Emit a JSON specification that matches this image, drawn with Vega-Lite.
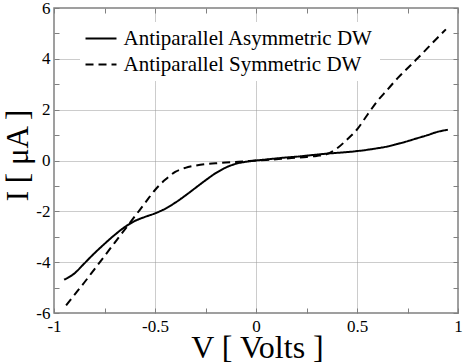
{
  "$schema": "https://vega.github.io/schema/vega-lite/v6.json",
  "width": 404,
  "height": 305,
  "autosize": {"type": "none"},
  "padding": {"left": 54, "top": 8, "right": 5, "bottom": 51},
  "background": "white",
  "config": {
    "view": {"stroke": "#808080", "strokeWidth": 1.5},
    "font": "Liberation Serif",
    "axis": {"labelFont": "Liberation Serif", "titleFont": "Liberation Serif"},
    "legend": {"labelFont": "Liberation Serif"}
  },
  "data": {
    "values": [
      {"series": "Antiparallel Asymmetric DW", "v": -0.95, "i": -4.69},
      {"series": "Antiparallel Asymmetric DW", "v": -0.90, "i": -4.45},
      {"series": "Antiparallel Asymmetric DW", "v": -0.85, "i": -4.05},
      {"series": "Antiparallel Asymmetric DW", "v": -0.80, "i": -3.65},
      {"series": "Antiparallel Asymmetric DW", "v": -0.75, "i": -3.28},
      {"series": "Antiparallel Asymmetric DW", "v": -0.70, "i": -2.93},
      {"series": "Antiparallel Asymmetric DW", "v": -0.65, "i": -2.62},
      {"series": "Antiparallel Asymmetric DW", "v": -0.60, "i": -2.38},
      {"series": "Antiparallel Asymmetric DW", "v": -0.55, "i": -2.22},
      {"series": "Antiparallel Asymmetric DW", "v": -0.50, "i": -2.08},
      {"series": "Antiparallel Asymmetric DW", "v": -0.45, "i": -1.90},
      {"series": "Antiparallel Asymmetric DW", "v": -0.40, "i": -1.66},
      {"series": "Antiparallel Asymmetric DW", "v": -0.35, "i": -1.38},
      {"series": "Antiparallel Asymmetric DW", "v": -0.30, "i": -1.08},
      {"series": "Antiparallel Asymmetric DW", "v": -0.25, "i": -0.78},
      {"series": "Antiparallel Asymmetric DW", "v": -0.20, "i": -0.50},
      {"series": "Antiparallel Asymmetric DW", "v": -0.15, "i": -0.28},
      {"series": "Antiparallel Asymmetric DW", "v": -0.10, "i": -0.13},
      {"series": "Antiparallel Asymmetric DW", "v": -0.05, "i": -0.05},
      {"series": "Antiparallel Asymmetric DW", "v": 0.00, "i": 0.00},
      {"series": "Antiparallel Asymmetric DW", "v": 0.05, "i": 0.04},
      {"series": "Antiparallel Asymmetric DW", "v": 0.10, "i": 0.08},
      {"series": "Antiparallel Asymmetric DW", "v": 0.15, "i": 0.12},
      {"series": "Antiparallel Asymmetric DW", "v": 0.20, "i": 0.15},
      {"series": "Antiparallel Asymmetric DW", "v": 0.25, "i": 0.19},
      {"series": "Antiparallel Asymmetric DW", "v": 0.30, "i": 0.23},
      {"series": "Antiparallel Asymmetric DW", "v": 0.35, "i": 0.27},
      {"series": "Antiparallel Asymmetric DW", "v": 0.40, "i": 0.30},
      {"series": "Antiparallel Asymmetric DW", "v": 0.45, "i": 0.33},
      {"series": "Antiparallel Asymmetric DW", "v": 0.50, "i": 0.37},
      {"series": "Antiparallel Asymmetric DW", "v": 0.55, "i": 0.42},
      {"series": "Antiparallel Asymmetric DW", "v": 0.60, "i": 0.48},
      {"series": "Antiparallel Asymmetric DW", "v": 0.65, "i": 0.55},
      {"series": "Antiparallel Asymmetric DW", "v": 0.70, "i": 0.65},
      {"series": "Antiparallel Asymmetric DW", "v": 0.75, "i": 0.76},
      {"series": "Antiparallel Asymmetric DW", "v": 0.80, "i": 0.88},
      {"series": "Antiparallel Asymmetric DW", "v": 0.85, "i": 1.00},
      {"series": "Antiparallel Asymmetric DW", "v": 0.90, "i": 1.13},
      {"series": "Antiparallel Asymmetric DW", "v": 0.95, "i": 1.21},
      {"series": "Antiparallel Symmetric DW", "v": -0.94, "i": -5.70},
      {"series": "Antiparallel Symmetric DW", "v": -0.90, "i": -5.30},
      {"series": "Antiparallel Symmetric DW", "v": -0.85, "i": -4.80},
      {"series": "Antiparallel Symmetric DW", "v": -0.80, "i": -4.28},
      {"series": "Antiparallel Symmetric DW", "v": -0.75, "i": -3.76},
      {"series": "Antiparallel Symmetric DW", "v": -0.70, "i": -3.24},
      {"series": "Antiparallel Symmetric DW", "v": -0.65, "i": -2.72},
      {"series": "Antiparallel Symmetric DW", "v": -0.60, "i": -2.20},
      {"series": "Antiparallel Symmetric DW", "v": -0.55, "i": -1.68},
      {"series": "Antiparallel Symmetric DW", "v": -0.50, "i": -1.16},
      {"series": "Antiparallel Symmetric DW", "v": -0.45, "i": -0.76},
      {"series": "Antiparallel Symmetric DW", "v": -0.40, "i": -0.45},
      {"series": "Antiparallel Symmetric DW", "v": -0.35, "i": -0.29},
      {"series": "Antiparallel Symmetric DW", "v": -0.30, "i": -0.20},
      {"series": "Antiparallel Symmetric DW", "v": -0.25, "i": -0.14},
      {"series": "Antiparallel Symmetric DW", "v": -0.20, "i": -0.11},
      {"series": "Antiparallel Symmetric DW", "v": -0.15, "i": -0.08},
      {"series": "Antiparallel Symmetric DW", "v": -0.10, "i": -0.06},
      {"series": "Antiparallel Symmetric DW", "v": -0.05, "i": -0.03},
      {"series": "Antiparallel Symmetric DW", "v": 0.00, "i": 0.00},
      {"series": "Antiparallel Symmetric DW", "v": 0.05, "i": 0.02},
      {"series": "Antiparallel Symmetric DW", "v": 0.10, "i": 0.05},
      {"series": "Antiparallel Symmetric DW", "v": 0.15, "i": 0.08},
      {"series": "Antiparallel Symmetric DW", "v": 0.20, "i": 0.11},
      {"series": "Antiparallel Symmetric DW", "v": 0.25, "i": 0.14},
      {"series": "Antiparallel Symmetric DW", "v": 0.30, "i": 0.18},
      {"series": "Antiparallel Symmetric DW", "v": 0.35, "i": 0.25},
      {"series": "Antiparallel Symmetric DW", "v": 0.40, "i": 0.47},
      {"series": "Antiparallel Symmetric DW", "v": 0.45, "i": 0.82},
      {"series": "Antiparallel Symmetric DW", "v": 0.50, "i": 1.22},
      {"series": "Antiparallel Symmetric DW", "v": 0.55, "i": 1.78},
      {"series": "Antiparallel Symmetric DW", "v": 0.60, "i": 2.33},
      {"series": "Antiparallel Symmetric DW", "v": 0.65, "i": 2.78},
      {"series": "Antiparallel Symmetric DW", "v": 0.70, "i": 3.23},
      {"series": "Antiparallel Symmetric DW", "v": 0.75, "i": 3.63},
      {"series": "Antiparallel Symmetric DW", "v": 0.80, "i": 4.02},
      {"series": "Antiparallel Symmetric DW", "v": 0.85, "i": 4.43},
      {"series": "Antiparallel Symmetric DW", "v": 0.90, "i": 4.84},
      {"series": "Antiparallel Symmetric DW", "v": 0.94, "i": 5.16}
    ]
  },
  "layer": [
    {
      "mark": {"type": "line", "color": "black", "strokeWidth": 2, "interpolate": "monotone"},
      "encoding": {
        "x": {
          "field": "v", "type": "quantitative",
          "scale": {"domain": [-1, 1], "nice": false, "zero": false},
          "axis": {
            "orient": "bottom",
            "title": "V [ Volts ]",
            "values": [-1, -0.75, -0.5, -0.25, 0, 0.25, 0.5, 0.75, 1],
            "labelExpr": "datum.value % 0.5 === 0 ? '' + datum.value : ''",
            "labelFont": "Liberation Serif", "labelFontSize": 17, "labelColor": "black",
            "labelFlush": false, "labelOverlap": false, "labelPadding": 10, "labelBaseline": "top",
            "tickSize": -5, "tickColor": "#808080", "tickWidth": 1,
            "domain": false,
            "grid": true, "gridColor": "#999999", "gridDash": [1, 1], "gridWidth": 1,
            "gridOpacity": {"condition": {"test": "datum.value % 0.5 === 0 && abs(datum.value) < 1", "value": 1}, "value": 0},
            "titleFont": "Liberation Serif", "titleFontSize": 32, "titleFontWeight": "normal", "titleColor": "black",
            "titleX": 203, "titleY": 44, "titleBaseline": "alphabetic", "titleAlign": "center"
          }
        },
        "y": {
          "field": "i", "type": "quantitative",
          "scale": {"domain": [-6, 6], "nice": false, "zero": false},
          "axis": {
            "orient": "left",
            "title": "I [ μA ]",
            "values": [-6, -5, -4, -3, -2, -1, 0, 1, 2, 3, 4, 5, 6],
            "labelExpr": "datum.value % 2 === 0 ? '' + datum.value : ''",
            "labelFont": "Liberation Serif", "labelFontSize": 17, "labelColor": "black",
            "labelFlush": false, "labelOverlap": false, "labelPadding": 9,
            "tickSize": -5, "tickColor": "#808080", "tickWidth": 1,
            "domain": false,
            "grid": true, "gridColor": "#999999", "gridDash": [1, 1], "gridWidth": 1,
            "gridOpacity": {"condition": {"test": "datum.value % 2 === 0 && abs(datum.value) < 6", "value": 1}, "value": 0},
            "titleFont": "Liberation Serif", "titleFontSize": 31, "titleFontWeight": "normal", "titleColor": "black",
            "titleAngle": -90, "titleX": -27, "titleY": 147, "titleBaseline": "alphabetic", "titleAlign": "center"
          }
        },
        "strokeDash": {
          "field": "series", "type": "nominal",
          "scale": {"domain": ["Antiparallel Asymmetric DW", "Antiparallel Symmetric DW"], "range": [[1, 0], [8, 5]]},
          "legend": {
            "title": null,
            "orient": "none", "legendX": 26, "legendY": 14,
            "fillColor": "white", "strokeColor": null, "padding": 6,
            "labelFont": "Liberation Serif", "labelFontSize": 21, "labelColor": "black", "labelLimit": 400,
            "symbolType": "M-2,0H2", "symbolSize": 240, "symbolStrokeWidth": 2, "symbolStrokeColor": "black",
            "symbolOffset": 4.5, "labelOffset": 12, "rowPadding": 4
          }
        }
      }
    },
    {
      "mark": {"type": "line", "strokeOpacity": 0, "interpolate": "monotone"},
      "encoding": {
        "x": {
          "field": "v", "type": "quantitative",
          "axis": {
            "orient": "top", "title": null, "labels": false, "domain": false, "grid": false,
            "values": [-1, -0.75, -0.5, -0.25, 0, 0.25, 0.5, 0.75, 1],
            "tickSize": -5, "tickColor": "#808080", "tickWidth": 1
          }
        },
        "y": {
          "field": "i", "type": "quantitative",
          "axis": {
            "orient": "right", "title": null, "labels": false, "domain": false, "grid": false,
            "values": [-6, -5, -4, -3, -2, -1, 0, 1, 2, 3, 4, 5, 6],
            "tickSize": -5, "tickColor": "#808080", "tickWidth": 1
          }
        },
        "detail": {"field": "series", "type": "nominal"}
      }
    }
  ],
  "resolve": {"axis": {"x": "independent", "y": "independent"}}
}
